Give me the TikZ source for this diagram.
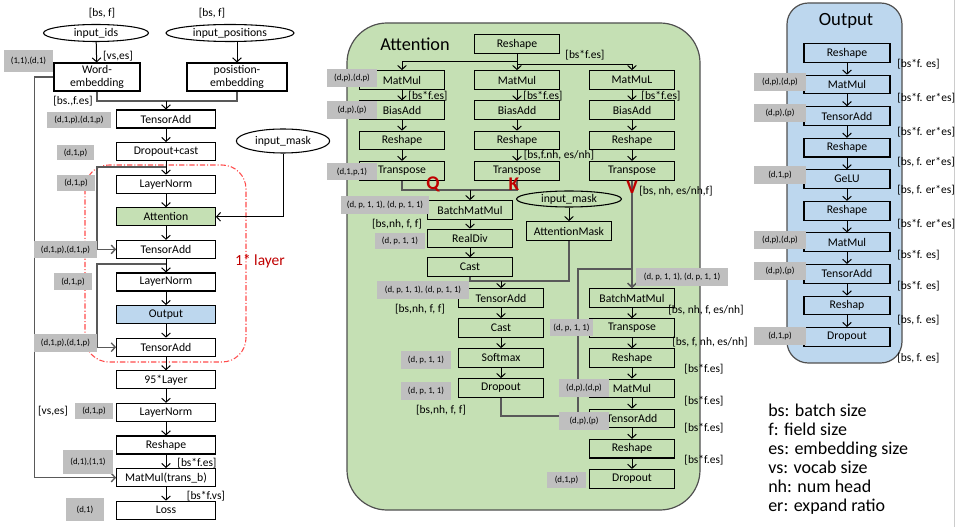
\documentclass[tikz,border=0pt]{standalone}
\usepackage{fontspec}
\setmainfont{Carlito}
\usetikzlibrary{arrows.meta,shapes,positioning}

\definecolor{attgreen}{HTML}{C5E0B4}
\definecolor{outblue}{HTML}{BDD7EE}
\definecolor{notegray}{HTML}{BFBFBF}
\definecolor{panelrim}{HTML}{505050}
\definecolor{layerred}{HTML}{FF4B4B}
\definecolor{textred}{HTML}{C00000}

\begin{document}
\begin{tikzpicture}[x=0.75pt,y=-0.75pt,node distance=24.45pt,>={Straight Barb[length=3pt,width=6.5pt]}]
  \tikzstyle{op}=[rectangle,draw=black,line width=0.8pt,fill=white,minimum width=74pt,minimum height=13.5pt,inner sep=0pt,font=\fontsize{8.8}{10}\selectfont]
  \tikzstyle{aop}=[op,fill=none,minimum width=64pt,minimum height=14pt]
  \tikzstyle{inp}=[ellipse,draw=black,line width=0.8pt,inner sep=0pt,minimum width=78.75pt,minimum height=12.75pt,font=\fontsize{8.8}{10}\selectfont]
  \tikzstyle{shp}=[inner sep=0pt,font=\fontsize{8.6}{10}\selectfont]
  \tikzstyle{note}=[rectangle,fill=notegray,inner xsep=1pt,inner ysep=0pt,font=\fontsize{6.6}{8}\selectfont]
  \tikzstyle{flow}=[->,draw=black,line width=0.75pt]
  \tikzstyle{skip}=[draw=black!65,line width=1pt]
  \tikzstyle{qkv}=[inner sep=0pt,text=textred,font=\fontsize{14.5}{15}\selectfont\bfseries]

  \useasboundingbox (0,0) rectangle (957,527);
  \draw[gray!40,line width=0.6pt] (954,0) -- (954,527);

  % panels
  \draw[fill=attgreen,draw=panelrim,line width=0.9pt,rounded corners=30pt] (347,23) rectangle (700,510);
  \draw[fill=outblue,draw=panelrim,line width=0.9pt,rounded corners=16pt] (787,3) rectangle (902,363);
  \draw[layerred,line width=0.8pt,dash pattern=on 4pt off 1.5pt on 0.8pt off 1.5pt,rounded corners=18pt] (85,165) rectangle (246,362);

  % Main stack.
  \node[inp] (ids) at (96,33) {input\_ids};
  \node[inp,minimum width=96pt] (pos) at (230,33) {input\_positions};
  \node[op,minimum width=64.5pt,minimum height=21pt,align=center,font=\fontsize{8.8}{9.4}\selectfont] (wemb) at (97,77) {Word-\\embedding};
  \node[op,minimum width=75pt,minimum height=21pt,align=center,font=\fontsize{8.8}{9.4}\selectfont] (pemb) at (237,77) {posistion-\\embedding};
  \node[op] (ta1) at (166,119) {TensorAdd};
  \node[op] (dc) [below of=ta1] {Dropout+cast};
  \node[op] (ln1) [below of=dc] {LayerNorm};
  \node[op,fill=attgreen] (att) [below of=ln1] {Attention};
  \node[op] (ta2) [below of=att] {TensorAdd};
  \node[op] (ln2) [below of=ta2] {LayerNorm};
  \node[op,fill=outblue] (out) [below of=ln2] {Output};
  \node[op] (ta3) [below of=out] {TensorAdd};
  \node[op] (l95) [below of=ta3] {95*Layer};
  \node[op] (ln3) [below of=l95] {LayerNorm};
  \node[op] (lrs) [below of=ln3] {Reshape};
  \node[op] (lmm) [below of=lrs] {MatMul(trans\_b)};
  \node[op] (loss) [below of=lmm] {Loss};
  \node[inp,minimum width=70pt,minimum height=18pt] (mask) at (283,141) {input\_mask};

  % Attention block.
  \node[inner sep=0pt,font=\fontsize{13.7}{14}\selectfont] (atitle) at (415,44) {Attention};
  \node[aop] (ars) at (517,44) {Reshape};
  \begin{scope}[node distance=22.7pt]
    \node[aop] (qmm) at (402,80) {MatMul};
    \node[aop] (qba) [below of=qmm] {BiasAdd};
    \node[aop] (qrs) [below of=qba] {Reshape};
    \node[aop] (qtr) [below of=qrs] {Transpose};
    \node[aop] (kmm) at (517,80) {MatMul};
    \node[aop] (kba) [below of=kmm] {BiasAdd};
    \node[aop] (krs) [below of=kba] {Reshape};
    \node[aop] (ktr) [below of=krs] {Transpose};
    \node[aop] (vmm) at (632,80) {MatMuL};
    \node[aop] (vba) [below of=vmm] {BiasAdd};
    \node[aop] (vrs) [below of=vba] {Reshape};
    \node[aop] (vtr) [below of=vrs] {Transpose};
  \end{scope}
  \begin{scope}[node distance=21.4pt]
    \node[aop] (bmm) at (470,210) {BatchMatMul};
    \node[aop] (rdiv) [below of=bmm] {RealDiv};
    \node[aop] (cast1) [below of=rdiv] {Cast};
  \end{scope}
  \node[inp,minimum height=12pt] (amaskin) at (569,199) {input\_mask};
  \node[aop] (amask) at (569,231) {AttentionMask};
  \begin{scope}[node distance=22.5pt]
    \node[aop] (sta) at (501,298) {TensorAdd};
    \node[aop] (cast2) [below of=sta] {Cast};
    \node[aop] (smax) [below of=cast2] {Softmax};
    \node[aop] (sdrop) [below of=smax] {Dropout};
  \end{scope}
  \begin{scope}[node distance=22.6pt]
    \node[aop] (vbmm) at (632,298) {BatchMatMul};
    \node[aop] (vtr2) [below of=vbmm] {Transpose};
    \node[aop] (vrs2) [below of=vtr2] {Reshape};
    \node[aop] (vmm2) [below of=vrs2] {MatMul};
    \node[aop] (vta) [below of=vmm2] {TensorAdd};
    \node[aop] (vrs3) [below of=vta] {Reshape};
    \node[aop] (vdrop) [below of=vrs3] {Dropout};
  \end{scope}

  % Output block.
  \node[inner sep=0pt,font=\fontsize{14}{14}\selectfont] (otitle) at (846,21) {Output};
  \begin{scope}[node distance=23.66pt]
    \node[aop,minimum width=64.5pt] (ors1) at (847,53) {Reshape};
    \node[aop,minimum width=64.5pt] (omm1) [below of=ors1] {MatMul};
    \node[aop,minimum width=64.5pt] (ota1) [below of=omm1] {TensorAdd};
    \node[aop,minimum width=64.5pt] (ors2) [below of=ota1] {Reshape};
    \node[aop,minimum width=64.5pt] (ogelu) [below of=ors2] {GeLU};
    \node[aop,minimum width=64.5pt] (ors3) [below of=ogelu] {Reshape};
    \node[aop,minimum width=64.5pt] (omm2) [below of=ors3] {MatMul};
    \node[aop,minimum width=64.5pt] (ota2) [below of=omm2] {TensorAdd};
    \node[aop,minimum width=64.5pt] (ors4) [below of=ota2] {Reshap};
    \node[aop,minimum width=64.5pt] (odrop) [below of=ors4] {Dropout};
  \end{scope}

  % connectors, main stack
  \coordinate (j1) at (166,101);
  \coordinate (s1) at (166,167);
  \coordinate (s2) at (166,264);
  \draw[flow] (ids) -- (wemb);
  \draw[flow] (pemb.north |- pos.south) -- (pemb.north);
  \draw[skip] (wemb.south) |- (j1) -| (pemb.south);
  \draw[flow] (j1) -- (ta1);
  \path[flow] (ta1) edge (dc) (dc) edge (ln1) (ln1) edge (att) (att) edge (ta2)
    (ta2) edge (ln2) (ln2) edge (out) (out) edge (ta3) (ta3) edge (l95)
    (l95) edge (ln3) (ln3) edge (lrs) (lrs) edge (lmm) (lmm) edge (loss);
  \draw[skip,->] (s1) -- ++(-69,0) |- (ta2.west);
  \draw[skip,->] (s2) -- ++(-69,0) |- (ta3.west);
  \draw[flow] (mask.south) |- (att.east);
  \draw[skip,->] (wemb.west) -- ++(-19,0) |- (lmm.west);

  % connectors, attention
  \coordinate (aj) at (517,62);
  \coordinate (qk) at (402,190);
  \coordinate (mj) at (501,281);
  \coordinate (pv) at (578,269);
  \draw[flow] (ars) -- (kmm);
  \draw[flow] (aj) -| (qmm.north);
  \draw[flow] (aj) ++(0,3) -| (vmm.north);
  \path[flow] (qmm) edge (qba) (qba) edge (qrs) (qrs) edge (qtr)
    (kmm) edge (kba) (kba) edge (krs) (krs) edge (ktr)
    (vmm) edge (vba) (vba) edge (vrs) (vrs) edge (vtr);
  \draw[skip] (qtr.south) -- (qk) -| (ktr.south);
  \draw[flow] (bmm.north |- qk) -- (bmm.north);
  \path[flow] (bmm) edge (rdiv) (rdiv) edge (cast1) (amaskin) edge (amask);
  \draw[skip] (cast1.south) |- (mj);
  \draw[skip] (amask.south) |- (mj);
  \draw[flow] (mj) -- (sta.north);
  \path[flow] (sta) edge (cast2) (cast2) edge (smax) (smax) edge (sdrop);
  \draw[skip,->] (vtr.south) -- (vbmm.north);
  \draw[skip,->] (sdrop.south) -- ++(0,18) -| (pv) -| (vbmm.north);
  \path[flow] (vbmm) edge (vtr2) (vtr2) edge (vrs2) (vrs2) edge (vmm2)
    (vmm2) edge (vta) (vta) edge (vrs3) (vrs3) edge (vdrop);

  % connectors, output
  \path[flow] (ors1) edge (omm1) (omm1) edge (ota1) (ota1) edge (ors2) (ors2) edge (ogelu)
    (ogelu) edge (ors3) (ors3) edge (omm2) (omm2) edge (ota2) (ota2) edge (ors4) (ors4) edge (odrop);

  % shapes
  \node[shp] (d1) at (102,13) {[bs, f]};
  \node[shp] (d2) at (212,13) {[bs, f]};
  \node[shp] (d3) at (118,56) {[vs,es]};
  \node[shp] (d4) at (73,101) {[bs.,f.es]};
  \node[shp] (d5) at (53,411) {[vs,es]};
  \node[shp] (d6) at (197,463) {[bs*f.es]};
  \node[shp] (d7) at (206,496) {[bs*f.vs]};
  \node[shp] (d8) at (585,55) {[bs*f.es]};
  \node[shp] (d9) at (428,96) {[bs*f.es]};
  \node[shp] (d10) at (543,96) {[bs*f.es]};
  \node[shp] (d11) at (661,96) {[bs*f.es]};
  \node[shp] (d12) at (559,155) {[bs,f.nh, es/nh]};
  \node[shp] (d13) at (397,224) {[bs,nh, f, f]};
  \node[shp] (d14) at (420,309) {[bs,nh, f, f]};
  \node[shp] (d15) at (441,410) {[bs,nh, f, f]};
  \node[shp] (d16) at (676,191) {[bs, nh, es/nh,f]};
  \node[shp] (d17) at (706,310) {[bs, nh, f, es/nh]};
  \node[shp] (d18) at (710,342) {[bs, f, nh, es/nh]};
  \node[shp] (d19) at (704,369) {[bs*f.es]};
  \node[shp] (d20) at (704,401) {[bs*f.es]};
  \node[shp] (d21) at (704,428) {[bs*f.es]};
  \node[shp] (d22) at (704,460) {[bs*f.es]};
  \node[shp,anchor=west] (o1) at (897,64) {[bs*f. es]};
  \node[shp,anchor=west] (o2) at (897,98) {[bs*f. er*es]};
  \node[shp,anchor=west] (o3) at (897,132) {[bs*f. er*es]};
  \node[shp,anchor=west] (o4) at (897,162) {[bs, f. er*es]};
  \node[shp,anchor=west] (o5) at (897,190) {[bs, f. er*es]};
  \node[shp,anchor=west] (o6) at (897,224) {[bs*f. er*es]};
  \node[shp,anchor=west] (o7) at (897,255) {[bs*f. es]};
  \node[shp,anchor=west] (o8) at (897,286) {[bs*f. es]};
  \node[shp,anchor=west] (o9) at (897,320) {[bs, f. es]};
  \node[shp,anchor=west] (o10) at (897,358) {[bs, f. es]};

  \node[qkv] (qlab) at (433,184) {Q};
  \node[qkv] (klab) at (514,184) {K};
  \node[qkv] (vlab) at (632,187) {V};
  \node[inner sep=0pt,text=textred,font=\fontsize{11.6}{12}\selectfont] (lyr) at (260,261) {1* layer};

  % parameter shapes
  \node[note,minimum width=36.8pt,minimum height=16.5pt] (n1) at (28.5,61) {(1,1),(d,1)};
  \node[note,minimum width=48pt,minimum height=12pt] (n2) at (79,120) {(d,1,p),(d,1,p)};
  \node[note,minimum width=27.8pt,minimum height=11.3pt] (n3) at (75.5,152.5) {(d,1,p)};
  \node[note,minimum width=28.5pt,minimum height=12pt] (n4) at (76,183) {(d,1,p)};
  \node[note,minimum width=47.3pt,minimum height=12.8pt] (n5) at (65.5,249.5) {(d,1,p),(d,1,p)};
  \node[note,minimum width=28.5pt,minimum height=12.8pt] (n6) at (73,281.5) {(d,1,p)};
  \node[note,minimum width=47.3pt,minimum height=13.5pt] (n7) at (65.5,343) {(d,1,p),(d,1,p)};
  \node[note,minimum width=28.5pt,minimum height=12pt] (n8) at (94,410.5) {(d,1,p)};
  \node[note,minimum width=37.5pt,minimum height=18pt] (n9) at (88,462) {(d,1),(1,1)};
  \node[note,minimum width=28.5pt,minimum height=17.3pt] (n10) at (85,509.5) {(d,1)};
  \node[note,minimum width=37.5pt,minimum height=13.5pt] (n11) at (352,78) {(d,p),(d,p)};
  \node[note,minimum width=36.8pt,minimum height=13.5pt] (n12) at (352,110) {(d,p),(p)};
  \node[note,minimum width=36.8pt,minimum height=12.8pt] (n13) at (352,171.5) {(d,1,p,1)};
  \node[note,minimum width=65.3pt,minimum height=12.8pt] (n14) at (385,205) {(d, p, 1, 1), (d, p, 1, 1)};
  \node[note,minimum width=36.8pt,minimum height=12pt] (n15) at (400,241) {(d, p, 1, 1)};
  \node[note,minimum width=69pt,minimum height=12.8pt] (n16) at (423,290) {(d, p, 1, 1), (d, p, 1, 1)};
  \node[note,minimum width=36.8pt,minimum height=13.5pt] (n17) at (426,360) {(d, p, 1, 1)};
  \node[note,minimum width=36.8pt,minimum height=13.5pt] (n18) at (426,391) {(d, p, 1, 1)};
  \node[note,minimum width=68.3pt,minimum height=12.8pt] (n19) at (682,277) {(d, p, 1, 1), (d, p, 1, 1)};
  \node[note,minimum width=32.3pt,minimum height=12.8pt] (n20) at (571.5,327.5) {(d, p, 1, 1)};
  \node[note,minimum width=37.5pt,minimum height=12.8pt] (n21) at (584,388) {(d,p),(d,p)};
  \node[note,minimum width=37.5pt,minimum height=13.5pt] (n22) at (584,421) {(d,p),(p)};
  \node[note,minimum width=29.3pt,minimum height=12pt] (n23) at (566.5,479.5) {(d,1,p)};
  \node[note,minimum width=39pt,minimum height=12.8pt] (n24) at (780,82) {(d,p),(d,p)};
  \node[note,minimum width=39pt,minimum height=12.8pt] (n25) at (780,113) {(d,p),(p)};
  \node[note,minimum width=39pt,minimum height=12.8pt] (n26) at (780,175) {(d,1,p)};
  \node[note,minimum width=39pt,minimum height=12.8pt] (n27) at (780,240) {(d,p),(d,p)};
  \node[note,minimum width=39pt,minimum height=12.8pt] (n28) at (780,271) {(d,p),(p)};
  \node[note,minimum width=39pt,minimum height=12.8pt] (n29) at (780,336) {(d,1,p)};

  % legend
  \node[anchor=west,align=left,inner sep=0pt,font=\fontsize{13.5}{14.3}\selectfont] (legend) at (768,459)
    {bs: batch size\\f: field size\\es: embedding size\\vs: vocab size\\nh: num head\\er: expand ratio};
\end{tikzpicture}
\end{document}
